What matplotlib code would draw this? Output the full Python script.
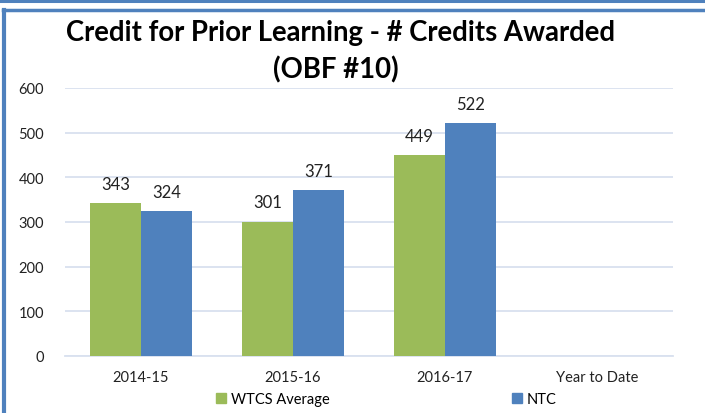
import matplotlib
matplotlib.use('Agg')
import matplotlib.pyplot as plt
import numpy as np
from matplotlib.patches import Patch
from matplotlib.lines import Line2D

categories = ['2014-15', '2015-16', '2016-17', 'Year to Date']
wtcs_avg = [343, 301, 449, None]
ntc = [324, 371, 522, None]
series_names = ['WTCS Average', 'NTC']

GREEN = '#9BBB59'
BLUE = '#4F81BD'
GRID = '#D9E1EF'

plt.rcParams['font.family'] = ['Lato', 'DejaVu Sans']

fig = plt.figure(figsize=(7.05, 4.14), dpi=100)
ax = fig.add_axes([65 / 705, 57 / 414, 608 / 705, 268 / 414])

x = np.arange(len(categories))
w = 0.336
for vals, off, col in [(wtcs_avg, -w / 2, GREEN), (ntc, w / 2, BLUE)]:
    xs = [xi + off for xi, v in zip(x, vals) if v is not None]
    ys = [v for v in vals if v is not None]
    bars = ax.bar(xs, ys, width=w, color=col, zorder=3)
    for b, v in zip(bars, ys):
        ax.annotate(str(v), (b.get_x() + b.get_width() / 2, v), xytext=(0, 8),
                    textcoords='offset points', ha='center', va='bottom',
                    fontsize=12, color='#222222')

ax.set_xlim(-0.5, len(categories) - 0.5)
ax.set_ylim(0, 600)
ax.set_yticks(range(0, 601, 100))
ax.set_xticks(x)
ax.set_xticklabels(categories)
ax.tick_params(axis='both', length=0, labelsize=10.5, colors='#222222')
ax.tick_params(axis='y', pad=15)
ax.tick_params(axis='x', pad=10)
ax.grid(axis='y', color=GRID, linewidth=1.3, zorder=0)
for s in ['top', 'right', 'left']:
    ax.spines[s].set_visible(False)
ax.spines['bottom'].set_color(GRID)
ax.spines['bottom'].set_linewidth(1.3)

fig.text(341 / 705, 1 - 33 / 414, 'Credit for Prior Learning - # Credits Awarded',
         ha='center', va='center', fontsize=19.8, fontweight='bold')
fig.text(336 / 705, 1 - 70 / 414, '(OBF #10)',
         ha='center', va='center', fontsize=19.8, fontweight='bold')

handles = [Patch(color=GREEN), Patch(color=BLUE)]
fig.legend(handles, series_names, loc='center', bbox_to_anchor=(386 / 705, 1 - 400 / 414),
           ncol=2, frameon=False, fontsize=10.5, handlelength=0.7, handleheight=0.7,
           handletextpad=0.3, columnspacing=12.5)

# blue frame lines
fig.add_artist(Line2D([0, 1], [1 - 1.5 / 414] * 2, color=BLUE, linewidth=2.2))
fig.add_artist(Line2D([3 / 705, 1], [1 - 10.5 / 414] * 2, color=BLUE, linewidth=2.5))
fig.add_artist(Line2D([4 / 705, 4 / 705], [0, 1 - 10.5 / 414], color=BLUE, linewidth=3))

fig.savefig('out.png', dpi=100)
